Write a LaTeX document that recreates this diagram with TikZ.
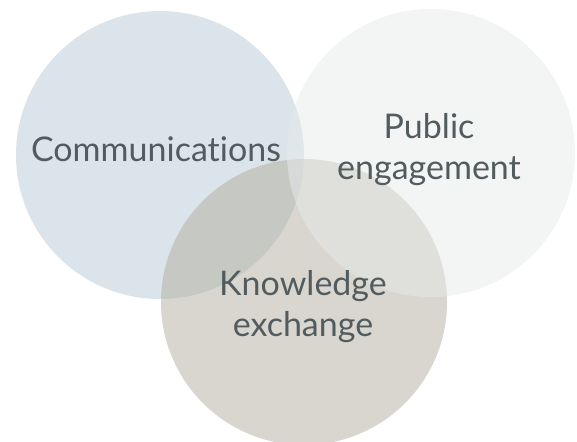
\documentclass[tikz,border=0pt]{standalone}
\usepackage{fontspec}
\setmainfont[Ligatures={NoCommon}]{Lato}

\definecolor{commblue}{RGB}{181,201,213}
\definecolor{pubgrey}{RGB}{231,235,235}
\definecolor{knowtaupe}{RGB}{179,173,159}
\definecolor{labelgrey}{RGB}{82,92,95}

\tikzset{
  venn/.style={circle, inner sep=0pt, minimum size=288pt, fill opacity=0.5},
  vennlabel/.style={text=labelgrey, font=\fontsize{34}{41}\selectfont, align=center, inner sep=0pt}
}

\begin{document}
\begin{tikzpicture}[x=1pt,y=-1pt]
\useasboundingbox (0,0) rectangle (577,441);
% the three sets
\node[venn, fill=commblue]  (comm) at (160,155) {};
\node[venn, fill=knowtaupe, minimum size=286pt] (know) at (304,302) {};
\node[venn, fill=pubgrey]   (pub)  at (431,153) {};
% labels
\node[vennlabel] (commlabel) at (156,149) {Communications};
\node[vennlabel] (publabel)  at (429,150) {Public\\engagement};
\node[vennlabel] (knowlabel) at (303,307) {Knowledge\\exchange};
\end{tikzpicture}
\end{document}
